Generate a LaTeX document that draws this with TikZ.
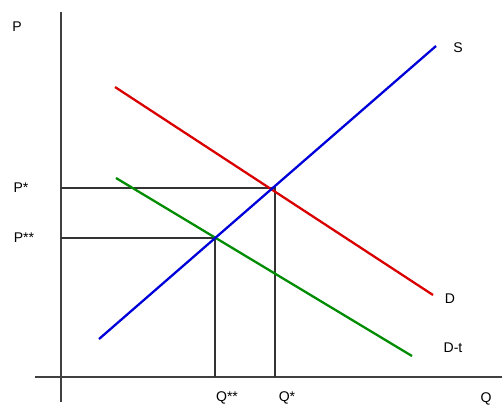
\documentclass[tikz,border=0pt]{standalone}
\usepackage{fontspec}
\setmainfont{Liberation Sans}
\usetikzlibrary{positioning,calc}

\begin{document}
\begin{tikzpicture}[
    x=0.02cm, y=-0.02cm,
    axis/.style={draw=black!75, line width=0.7pt},
    guide/.style={draw=black!80, line width=0.65pt},
    curve/.style={line width=1.3pt},
    lbl/.style={font=\fontsize{8}{9}\selectfont, inner sep=0pt}
  ]
  \useasboundingbox (0,0) rectangle (502,407);

  % axes
  \coordinate (YT) at (61,12);
  \coordinate (YB) at (61,402);
  \coordinate (XL) at (35,377);
  \coordinate (XR) at (502,377);
  \draw[axis] (YT) -- (YB);
  \draw[axis] (XL) -- (XR);

  % curve end points
  \coordinate (S0) at (99,339);
  \coordinate (S1) at (436,46);
  \coordinate (D0) at (115,87);
  \coordinate (D1) at (433,295);
  \coordinate (T0) at (116,178);
  \coordinate (T1) at (412,356);

  % equilibria
  \coordinate (E1) at (275,188);
  \coordinate (E2) at (215,238);
  \coordinate (P1) at (61,188);
  \coordinate (P2) at (61,238);
  \coordinate (Q1) at (275,377);
  \coordinate (Q2) at (215,377);

  \draw[guide] (P1) -- (E1) -- (Q1);
  \draw[guide] (P2) -- (E2) -- (Q2);

  \draw[curve, red!85!black] (D0) -- (D1);
  \draw[curve, green!55!black] (T0) -- (T1);
  \draw[curve, blue!85!black] (S0) -- (S1);

  % labels
  \node[lbl] (lP) at (17,27) {P};
  \node[lbl] (lP1) at (21,188) {P*};
  \node[lbl] (lP2) at (24,238) {P**};
  \node[lbl] (lQ2) at (227,398) {Q**};
  \node[lbl] (lQ1) at (287,398) {Q*};
  \node[lbl] (lQ) at (486,399) {Q};
  \node[lbl] (lS) at (458,48) {S};
  \node[lbl] (lD) at (450,299) {D};
  \node[lbl] (lT) at (453,348) {D-t};
\end{tikzpicture}
\end{document}
